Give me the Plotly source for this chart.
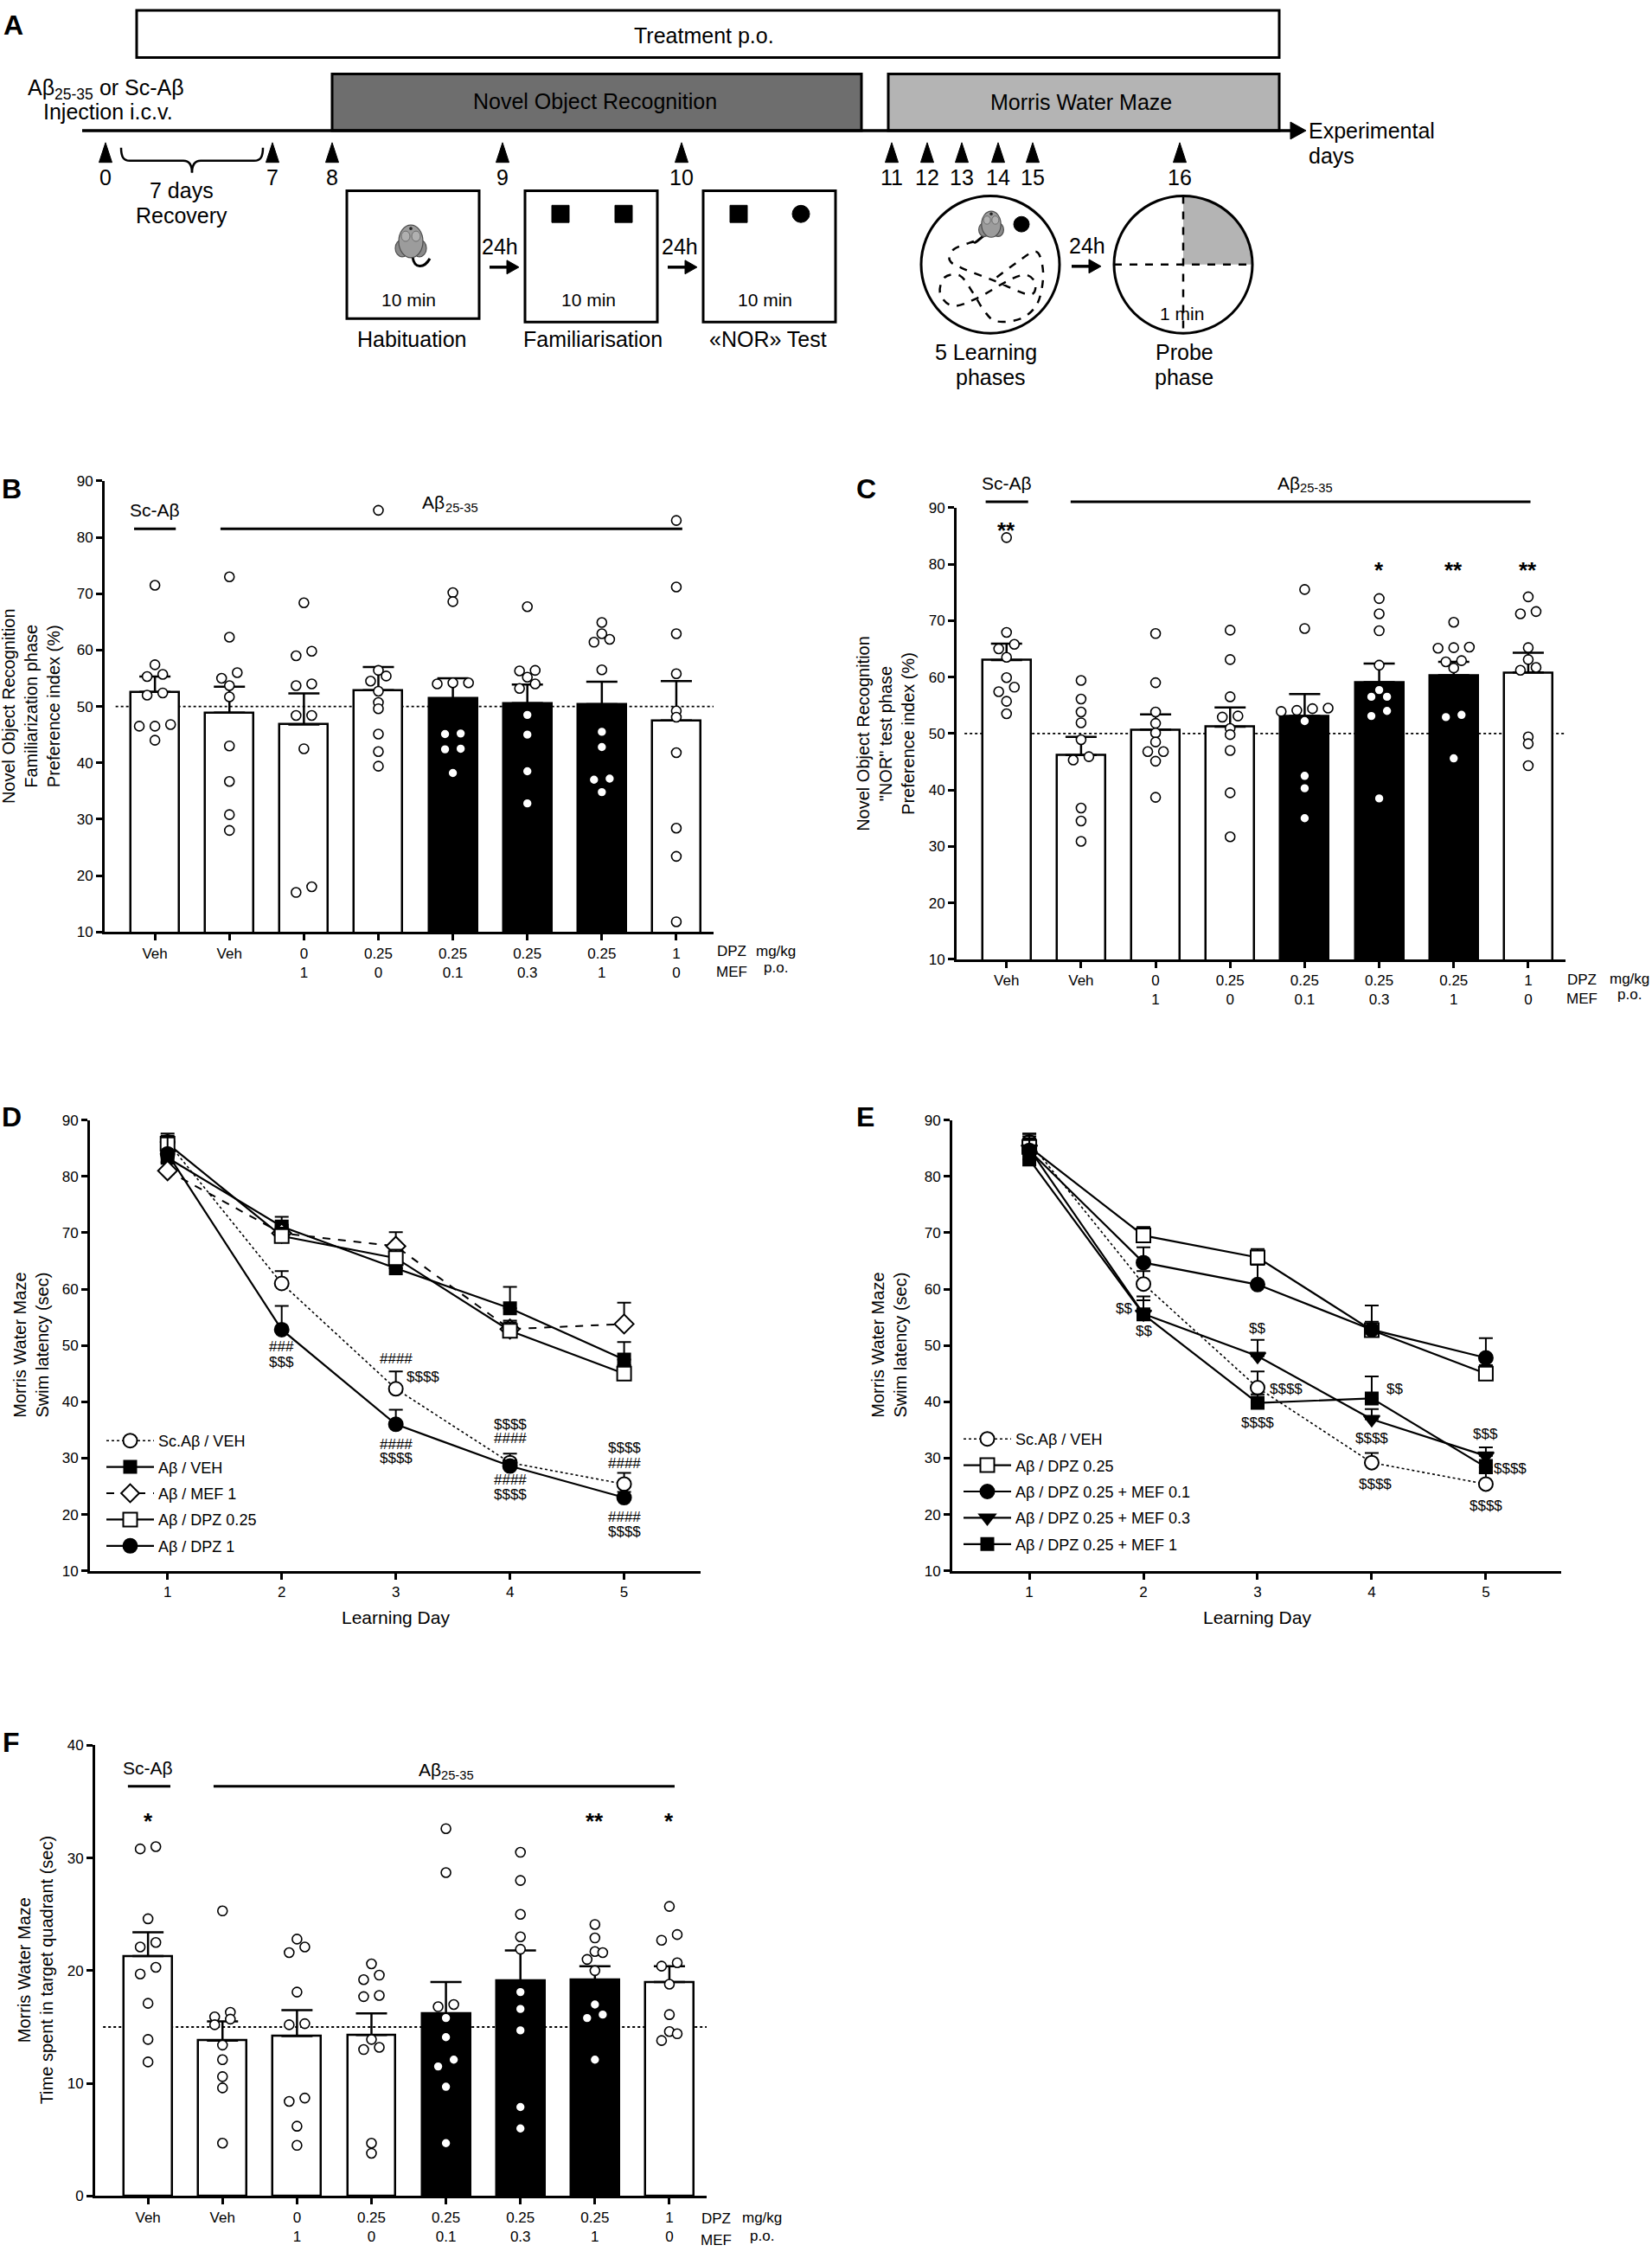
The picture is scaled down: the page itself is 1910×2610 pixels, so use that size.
import plotly.graph_objects as go

W, H = 1910, 2610
FONT = "Liberation Sans, Arial, Helvetica, sans-serif"

def X(px):
    return px / W

def Y(py):
    return 1 - py / H

# ------------------------------------------------------------------ data
dpz_labels = ["Veh", "Veh", "0", "0.25", "0.25", "0.25", "0.25", "1"]
mef_labels = ["", "", "1", "0", "0.1", "0.3", "1", "0"]
groups = list(range(8))

# Panel B - familiarisation preference index
fam_mean = [52.6, 48.9, 46.8, 52.9, 51.4, 50.6, 50.4, 47.5]
fam_sem = [2.7, 4.6, 5.5, 4.1, 3.6, 3.3, 4.0, 7.0]
fam_points = [
    [71.5, 57.4, 55.7, 55.3, 52.4, 52.0, 46.8, 46.5, 46.5, 44.0],
    [73.0, 62.3, 56.0, 55.0, 53.7, 51.7, 43.0, 36.7, 30.8, 28.0],
    [68.4, 59.8, 59.0, 54.0, 53.7, 48.4, 48.4, 42.5, 18.0, 17.0],
    [84.8, 56.4, 55.4, 54.5, 52.7, 50.7, 49.6, 45.1, 42.0, 39.4],
    [70.2, 68.6, 54.2, 54.0, 54.2, 45.2, 45.1, 42.5, 42.4, 38.2],
    [67.7, 56.4, 56.3, 55.2, 54.0, 53.2, 48.5, 45.0, 38.5, 32.8],
    [64.9, 62.9, 61.9, 61.4, 56.5, 45.5, 42.8, 37.2, 37.0, 34.8],
    [83.0, 71.2, 62.9, 55.8, 49.2, 48.1, 41.8, 28.4, 23.4, 11.8],
]

# Panel C - NOR test preference index
nor_mean = [63.0, 46.2, 50.7, 51.2, 53.1, 59.1, 60.3, 60.8]
nor_sem = [2.9, 3.2, 2.7, 3.4, 3.9, 3.3, 2.4, 3.5]
nor_points = [
    [84.7, 67.9, 65.8, 65.0, 63.5, 59.9, 58.2, 57.4, 55.7, 53.5],
    [59.4, 56.1, 53.8, 51.9, 48.9, 45.9, 45.3, 36.8, 34.5, 30.9],
    [67.7, 59.0, 53.8, 51.8, 50.1, 48.5, 46.8, 46.8, 45.1, 38.7],
    [68.3, 63.1, 56.5, 53.1, 52.9, 50.9, 49.8, 47.0, 39.5, 31.7],
    [75.5, 68.6, 54.5, 54.4, 53.9, 54.1, 52.2, 42.5, 40.3, 35.0],
    [73.9, 71.2, 68.2, 62.1, 57.7, 56.5, 56.5, 54.0, 53.1, 38.5],
    [69.7, 65.2, 65.1, 65.3, 62.7, 62.9, 61.6, 53.3, 52.9, 45.6],
    [74.2, 71.6, 71.2, 65.2, 63.1, 61.7, 61.2, 49.4, 48.2, 44.3],
]
nor_stars = ["**", "", "", "", "", "*", "**", "**"]

# Panel F - probe test time in target quadrant
probe_mean = [21.3, 13.8, 14.2, 14.3, 16.2, 19.1, 19.2, 19.0]
probe_sem = [2.1, 1.7, 2.3, 1.9, 2.8, 2.7, 1.2, 1.4]
probe_points = [
    [31.0, 30.8, 24.6, 22.5, 22.1, 20.3, 19.7, 17.1, 13.9, 11.9],
    [25.3, 16.3, 15.9, 15.7, 15.2, 13.4, 12.1, 10.6, 9.6, 4.7],
    [22.8, 22.1, 21.6, 18.1, 15.3, 15.2, 8.7, 8.4, 6.2, 4.5],
    [20.6, 19.6, 19.2, 17.8, 17.7, 13.9, 13.2, 13.0, 4.7, 3.8],
    [32.6, 28.7, 17.0, 16.8, 15.8, 14.1, 12.1, 11.5, 9.7, 4.7],
    [30.5, 28.0, 25.0, 23.0, 21.9, 18.1, 16.6, 14.7, 7.9, 6.0],
    [24.1, 22.9, 21.7, 21.6, 21.0, 20.0, 17.0, 16.1, 15.8, 12.1],
    [25.7, 23.2, 22.7, 20.4, 20.7, 18.8, 16.1, 14.6, 14.4, 13.8],
]
probe_stars = ["*", "", "", "", "", "", "**", "*"]

# Panels D / E - swim latency over learning days
days = [1, 2, 3, 4, 5]
d_names = ["Sc.Aβ / VEH", "Aβ / VEH", "Aβ / MEF 1", "Aβ / DPZ 0.25", "Aβ / DPZ 1"]
d_mean = [
    [86.1, 61.0, 42.3, 29.2, 25.4],
    [83.3, 71.1, 63.7, 56.6, 47.5],
    [81.0, 69.9, 67.6, 52.9, 53.8],
    [85.8, 69.4, 65.5, 52.6, 45.0],
    [84.0, 52.8, 36.0, 28.6, 23.0],
]
d_sem = [
    [1.5, 2.2, 3.1, 1.6, 2.0],
    [1.6, 1.7, 1.0, 3.8, 3.1],
    [1.5, 1.5, 2.5, 1.5, 3.8],
    [1.4, 1.5, 1.5, 1.5, 1.5],
    [2.9, 4.2, 2.6, 1.0, 1.0],
]
d_marks = [  # text, day, value
    ("###", 2, 49.8), ("$$$", 2, 47.0),
    ("####", 3, 47.7), ("$$$$", 3.24, 44.4), ("####", 3, 32.5), ("$$$$", 3, 30.0),
    ("$$$$", 4, 36.0), ("####", 4, 33.6), ("####", 4, 26.1), ("$$$$", 4, 23.5),
    ("$$$$", 5, 31.9), ("####", 5, 29.1), ("####", 5, 19.5), ("$$$$", 5, 17.0),
]

e_names = ["Sc.Aβ / VEH", "Aβ / DPZ 0.25", "Aβ / DPZ 0.25 + MEF 0.1",
           "Aβ / DPZ 0.25 + MEF 0.3", "Aβ / DPZ 0.25 + MEF 1"]
e_mean = [
    [86.1, 60.9, 42.5, 29.2, 25.4],
    [85.2, 69.5, 65.6, 52.7, 45.0],
    [84.6, 64.7, 60.8, 52.8, 47.8],
    [84.9, 55.6, 48.1, 36.9, 30.4],
    [83.0, 55.5, 39.8, 40.6, 28.4],
]
e_sem = [
    [1.5, 2.3, 2.9, 1.7, 2.0],
    [1.5, 1.5, 1.5, 1.5, 1.5],
    [2.5, 2.7, 3.5, 4.3, 3.5],
    [2.6, 3.1, 2.9, 1.8, 1.5],
    [2.0, 2.5, 1.5, 3.9, 1.3],
]
e_marks = [
    ("$$", 1.83, 56.5), ("$$", 2, 52.5),
    ("$$", 3, 53.0), ("$$$$", 3.25, 42.3), ("$$$$", 3, 36.3),
    ("$$", 4.2, 42.3), ("$$$$", 4, 33.6), ("$$$$", 4.03, 25.4),
    ("$$$", 5, 34.3), ("$$$$", 5.21, 28.2), ("$$$$", 5, 21.6),
]

# timeline (panel A)
tl_days = ["0", "7", "8", "9", "10", "11", "12", "13", "14", "15", "16"]

# ------------------------------------------------------------------ styles
bar_fill = ["white", "white", "white", "white", "black", "black", "black", "white"]
d_style = [("circle", "white", "dot", 1.6, 16), ("square", "black", "solid", 2.2, 14),
           ("diamond", "white", "dash", 2.0, 17), ("square", "white", "solid", 2.2, 16),
           ("circle", "black", "solid", 2.2, 16)]
e_style = [("circle", "white", "dot", 1.6, 16), ("square", "white", "solid", 2.2, 16),
           ("circle", "black", "solid", 2.2, 16), ("triangle-down", "black", "solid", 2.2, 16),
           ("square", "black", "solid", 2.2, 14)]
tl_px = [122, 315, 384, 581, 788, 1031, 1072, 1112, 1154, 1194, 1364]
ATXT = 25


def swarm(values, thresh, spacing=0.21):
    order = sorted(range(len(values)), key=lambda i: values[i])
    rows = []
    for i in order:
        if rows and abs(values[i] - values[rows[-1][0]]) <= thresh:
            rows[-1].append(i)
        else:
            rows.append([i])
    off = [0.0] * len(values)
    for row in rows:
        n = len(row)
        for k, i in enumerate(row):
            off[i] = (k - (n - 1) / 2) * spacing
    return off


def esc(s):
    # keep "$" from being read as LaTeX delimiters
    return s.replace("$", "&#36;")


fig = go.Figure()
shapes = []
ann = []


def text(x, y, s, size=ATXT, xref="paper", yref="paper", xanchor="center",
         bold=False, angle=0, yanchor="middle", xshift=0, yshift=0, pad=1):
    ann.append(dict(x=x, y=y, xref=xref, yref=yref, text=s, xshift=xshift, yshift=yshift,
                    showarrow=False, xanchor=xanchor, yanchor=yanchor, textangle=angle,
                    borderpad=pad, borderwidth=0,
                    font=dict(family=FONT, size=size, color="black",
                              weight="bold" if bold else "normal")))


def abeta(x, y, size, xref, yref, tail=""):
    # "Aβ" with a "25-35" subscript, drawn as separate text runs
    sub = 0.7 * size
    wa = 1.237 * size
    ws = 2.557 * sub
    wt = 4.182 * size if tail else 0.0
    left = -(wa + ws + wt) / 2
    text(x, y, "Aβ", size, xref, yref, xanchor="right", xshift=left + wa, pad=0)
    text(x, y, "25-35", sub, xref, yref, xanchor="left", xshift=left + wa + 0.5,
         yshift=-0.3 * size, pad=0)
    if tail:
        text(x, y, tail, size, xref, yref, xanchor="left", xshift=left + wa + ws, pad=0)


def pp(x, y):
    return "%.5f,%.5f" % (X(x), Y(y))


def path(pts, close=False, fill=None, width=2.5, dash="solid", color="black"):
    d = "M" + pp(*pts[0]) + "".join(" L" + pp(*p) for p in pts[1:])
    if close:
        d += " Z"
    shapes.append(dict(type="path", xref="paper", yref="paper", path=d,
                       fillcolor=fill if fill else "rgba(0,0,0,0)",
                       line=dict(color=color, width=width, dash=dash), layer="above"))


def bez(segs, width=2.5, dash="solid", fill=None, close=False, color="black", start=None):
    d = ("M" + pp(*start) + " L" + pp(*segs[0])) if start else ("M" + pp(*segs[0]))
    for c1, c2, p in segs[1:]:
        d += " C" + pp(*c1) + " " + pp(*c2) + " " + pp(*p)
    if close:
        d += " Z"
    shapes.append(dict(type="path", xref="paper", yref="paper", path=d,
                       fillcolor=fill if fill else "rgba(0,0,0,0)",
                       line=dict(color=color, width=width, dash=dash), layer="above"))


def rect(x0, y0, x1, y1, fill="white", width=3):
    shapes.append(dict(type="rect", xref="paper", yref="paper", x0=X(x0), x1=X(x1),
                       y0=Y(y1), y1=Y(y0), fillcolor=fill,
                       line=dict(color="black", width=width), layer="above"))


def ellipse(cx, cy, rx, ry, fill="white", width=3, color="black"):
    shapes.append(dict(type="circle", xref="paper", yref="paper", x0=X(cx - rx), x1=X(cx + rx),
                       y0=Y(cy + ry), y1=Y(cy - ry), fillcolor=fill,
                       line=dict(color=color, width=width), layer="above"))


def arrow(x0, x1, y):
    path([(x0, y), (x1 - 12, y)], width=3.5)
    path([(x1 - 14, y - 8), (x1, y), (x1 - 14, y + 8)], close=True, fill="black", width=1)


def mouse(cx, cy, tail, s=1.0):
    bez(tail, width=3)
    ellipse(cx - 10 * s, cy + 8 * s, 8 * s, 10 * s, fill="#8a8a8a", width=1.2, color="#4d4d4d")
    ellipse(cx + 10 * s, cy + 8 * s, 8 * s, 10 * s, fill="#8a8a8a", width=1.2, color="#4d4d4d")
    ellipse(cx, cy, 14 * s, 19 * s, fill="#9c9c9c", width=1.2, color="#4d4d4d")
    ellipse(cx - 6 * s, cy - 6 * s, 5 * s, 6 * s, fill="#b0b0b0", width=1, color="#6d6d6d")
    ellipse(cx + 6 * s, cy - 6 * s, 5 * s, 6 * s, fill="#b0b0b0", width=1, color="#6d6d6d")
    ellipse(cx, cy - 15 * s, 1.6, 1.6, fill="#222222", width=0.5, color="#222222")

# ------------------------------------------------------------------ panel A
text(X(15), Y(20), "A", size=32, bold=True)
rect(158, 3, 1479, 58)
text(X(814), Y(32), "Treatment p.o.")
rect(384, 77, 996, 143, fill="#6e6e6e")
text(X(688), Y(109), "Novel Object Recognition")
rect(1027, 77, 1479, 143, fill="#b4b4b4")
text(X(1250), Y(110), "Morris Water Maze")
path([(95, 143), (1494, 143)], width=3.5)
path([(1492, 133), (1510, 143), (1492, 153)], close=True, fill="black", width=1)
text(X(1512), Y(143), "Experimental", xanchor="left")
text(X(1512), Y(172), "days", xanchor="left")
abeta(X(122), Y(93), ATXT, "paper", "paper", tail=" or Sc-Aβ")
text(X(125), Y(121), "Injection i.c.v.")
for lab, xp in zip(tl_days, tl_px):
    path([(xp - 7.5, 180), (xp, 157), (xp + 7.5, 180)], close=True, fill="black", width=1)
    text(X(xp), Y(197), lab)
bez([(140, 163), ((140, 174), (143, 178), (150, 178))], width=2.5)
path([(150, 178), (212, 178)], width=2.5)
bez([(212, 178), ((218, 178), (222, 182), (222, 192))], width=2.5)
bez([(222, 192), ((222, 182), (226, 178), (232, 178))], width=2.5)
path([(232, 178), (294, 178)], width=2.5)
bez([(294, 178), ((301, 178), (304, 174), (304, 163))], width=2.5)
text(X(210), Y(213), "7 days")
text(X(210), Y(242), "Recovery")

# NOR boxes
rect(401, 213, 554, 362)
mouse(475, 272, [(477, 290), ((479, 304), (490, 304), (497, 292))])
text(X(472), Y(340), "10 min", size=21)
text(X(476), Y(386), "Habituation")
rect(607, 213, 760, 366)
rect(638, 230, 658, 250, fill="black", width=1)
rect(711, 230, 731, 250, fill="black", width=1)
text(X(680), Y(340), "10 min", size=21)
text(X(685), Y(386), "Familiarisation")
rect(813, 213, 966, 366)
rect(844, 230, 864, 250, fill="black", width=1)
ellipse(926, 240, 10, 10, fill="black", width=1)
text(X(884), Y(340), "10 min", size=21)
text(X(888), Y(386), "«NOR» Test")
text(X(578), Y(278), "24h")
arrow(566, 600, 302)
text(X(786), Y(278), "24h")
arrow(772, 806, 302)

# Morris water maze drawings
ellipse(1145, 299, 80, 80, width=3)
traj = [(1126, 272), (1103, 281), (1098, 294), (1112, 303), (1150, 318), (1190, 334),
        (1197, 321), (1186, 311), (1165, 318), (1130, 338), (1102, 347), (1087, 333),
        (1092, 314), (1110, 312), (1125, 332), (1138, 353), (1152, 365), (1180, 362),
        (1199, 345), (1206, 315), (1203, 291), (1195, 284), (1175, 297), (1152, 314)]
segs = [traj[0]]
for i in range(len(traj) - 1):
    p0 = traj[max(i - 1, 0)]
    p1 = traj[i]
    p2 = traj[i + 1]
    p3 = traj[min(i + 2, len(traj) - 1)]
    c1 = (p1[0] + (p2[0] - p0[0]) / 6, p1[1] + (p2[1] - p0[1]) / 6)
    c2 = (p2[0] - (p3[0] - p1[0]) / 6, p2[1] - (p3[1] - p1[1]) / 6)
    segs.append((c1, c2, p2))
bez(segs, width=2.5, dash="dash")
ellipse(1181, 252, 9, 9, fill="black", width=1)
mouse(1146, 252, [(1140, 264), ((1130, 270), (1127, 276), (1126, 272))], s=0.8)
text(X(1140), Y(401), "5 Learning")
text(X(1145), Y(430), "phases")
text(X(1257), Y(277), "24h")
arrow(1239, 1273, 301)
k = 0.5523
cx, cy, r = 1368, 299, 80
bez([(cx, cy - r), ((cx + k * r, cy - r), (cx + r, cy - k * r), (cx + r, cy))],
    width=0, fill="#b4b4b4", close=True, start=(cx, cy))
path([(cx, cy - r), (cx, cy + r)], width=2.5, dash="dash")
path([(cx - r, cy), (cx + r, cy)], width=2.5, dash="dash")
ellipse(cx, cy, r, r, fill="rgba(0,0,0,0)", width=3)
text(X(1366), Y(356), "1 min", size=21)
text(X(1369), Y(401), "Probe")
text(X(1369), Y(430), "phase")

# ------------------------------------------------------------------ axes
def axstyle(**kw):
    d = dict(showline=True, linecolor="black", linewidth=3, ticks="outside", ticklen=7,
             tickwidth=2.5, tickcolor="black", showgrid=False, zeroline=False,
             tickfont=dict(family=FONT, size=17, color="black"))
    d.update(kw)
    return d

ticktext = [d if not m else "%s<br>%s" % (d, m) for d, m in zip(dpz_labels, mef_labels)]
rngB, rngC, rngF = [-0.675, 7.5], [-0.67, 7.5], [-0.71, 7.5]
layout_axes = dict(
    xaxis=axstyle(domain=[X(121), X(825)], range=rngB, tickvals=groups, ticktext=ticktext, anchor="y"),
    yaxis=axstyle(domain=[Y(1076), Y(551)], range=[10, 90], dtick=10, anchor="x"),
    xaxis2=axstyle(domain=[X(1106), X(1810)], range=rngC, tickvals=groups, ticktext=ticktext, anchor="y2"),
    yaxis2=axstyle(domain=[Y(1108), Y(582)], range=[10, 90], dtick=10, anchor="x2"),
    xaxis3=axstyle(domain=[X(104), X(810)], range=[0.32, 5.67], tickvals=days, anchor="y3"),
    yaxis3=axstyle(domain=[Y(1820), Y(1295)], range=[10, 90], dtick=10, anchor="x3"),
    xaxis4=axstyle(domain=[X(1101), X(1805)], range=[0.325, 5.66], tickvals=days, anchor="y4"),
    yaxis4=axstyle(domain=[Y(1820), Y(1295)], range=[10, 90], dtick=10, anchor="x4"),
    xaxis5=axstyle(domain=[X(110), X(817)], range=rngF, tickvals=groups, ticktext=ticktext, anchor="y5"),
    yaxis5=axstyle(domain=[Y(2548), Y(2023)], range=[0, 40], dtick=10, anchor="x5"),
)


def dfrac(v, rng):
    return (v - rng[0]) / (rng[1] - rng[0])

# ------------------------------------------------------------------ bar panels
def bar_panel(xa, ya, mean, sem, pts, thresh):
    fig.add_trace(go.Bar(x=groups, y=mean, width=0.65, xaxis=xa, yaxis=ya, showlegend=False,
                         marker=dict(color=bar_fill, line=dict(color="black", width=2.5)),
                         error_y=dict(type="data", array=sem, arrayminus=[0] * len(sem),
                                      symmetric=False, color="black", thickness=2.5, width=18)))
    xs, ys = [], []
    for g, vals in zip(groups, pts):
        off = swarm(vals, thresh)
        xs += [g + o for o in off]
        ys += vals
    fig.add_trace(go.Scatter(x=xs, y=ys, mode="markers", xaxis=xa, yaxis=ya, showlegend=False,
                             marker=dict(symbol="circle", size=11, color="white",
                                         line=dict(color="black", width=1.6))))

bar_panel("x", "y", fam_mean, fam_sem, fam_points, 1.0)
bar_panel("x2", "y2", nor_mean, nor_sem, nor_points, 1.0)
bar_panel("x5", "y5", probe_mean, probe_sem, probe_points, 0.65)

for xr, yr, yv, x0 in [("x", "y", 50, 0.018), ("x2", "y2", 50, 0.013), ("x5", "y5", 15, 0.013)]:
    shapes.append(dict(type="line", xref=xr + " domain", yref=yr, x0=x0, x1=1, y0=yv, y1=yv,
                       line=dict(color="black", width=1.8, dash="dot"), layer="below"))

# group headers
def hline(xr, yr, x0, x1, y):
    shapes.append(dict(type="line", xref=xr, yref=yr, x0=x0, x1=x1, y0=y, y1=y,
                       line=dict(color="black", width=3), layer="above"))

hline("x", "y", -0.28, 0.28, 81.5)
hline("x", "y", 0.88, 7.08, 81.5)
text(0, 84.8, "Sc-Aβ", size=21, xref="x", yref="y")
abeta(3.96, 86.2, 21, "x", "y")

hline("x2 domain", "y2 domain", dfrac(-0.28, rngC), dfrac(0.29, rngC), 1.013)
hline("x2 domain", "y2 domain", dfrac(0.86, rngC), dfrac(7.03, rngC), 1.013)
text(dfrac(0, rngC), 1.055, "Sc-Aβ", size=21, xref="x2 domain", yref="y2 domain")
abeta(dfrac(4.0, rngC), 1.055, 21, "x2 domain", "y2 domain")
for g, s in zip(groups, nor_stars):
    if s:
        text(g, 86.0 if g == 0 else 79.0, s, size=26, xref="x2", yref="y2", bold=True)

hline("x5", "y5", -0.27, 0.30, 36.35)
hline("x5", "y5", 0.88, 7.07, 36.35)
text(0, 38.0, "Sc-Aβ", size=21, xref="x5", yref="y5")
abeta(4.0, 37.8, 21, "x5", "y5")
for g, s in zip(groups, probe_stars):
    if s:
        text(g, 33.3, s, size=26, xref="x5", yref="y5", bold=True)

# dose labels right of bar axes
for xr, rng, xa, xb, y1, y2 in [("x", rngB, 7.74, 8.34, 1099, 1123),
                                ("x2", rngC, 7.72, 8.36, 1132, 1154),
                                ("x5", rngF, 7.63, 8.24, 2574, 2599)]:
    xd = xr + " domain"
    text(dfrac(xa, rng), Y(y1), "DPZ", size=17, xref=xd)
    text(dfrac(xb, rng), Y(y1 - 1), "mg/kg", size=17, xref=xd)
    text(dfrac(xa, rng), Y(y2), "MEF", size=17, xref=xd)
    text(dfrac(xb, rng), Y(y2 - 5), "p.o.", size=17, xref=xd)

# ------------------------------------------------------------------ line panels
def line_panel(xa, ya, names, means, sems, styles, legend):
    for nm, m, s, st in zip(names, means, sems, styles):
        sym, fill, dash, lw, size = st
        fig.add_trace(go.Scatter(
            x=days, y=m, name=nm, mode="lines+markers", xaxis=xa, yaxis=ya, legend=legend,
            legendgroup=legend + nm,
            line=dict(color="black", width=lw, dash=dash),
            marker=dict(symbol=sym, size=size, color=fill, line=dict(color="black", width=2)),
            error_y=dict(type="data", array=s, arrayminus=[0] * len(s), symmetric=False,
                         color="black", thickness=2, width=8)))

line_panel("x3", "y3", d_names, d_mean, d_sem, d_style, "legend")
line_panel("x4", "y4", e_names, e_mean, e_sem, e_style, "legend2")
for s, dx, v in d_marks:
    text(dx, v, esc(s), size=17, xref="x3", yref="y3")
for s, dx, v in e_marks:
    text(dx, v, esc(s), size=17, xref="x4", yref="y4")

# ------------------------------------------------------------------ titles & letters
text(X(36), Y(813), "Novel Object Recognition<br>Familiarization phase<br>Preference index (%)",
     size=20, angle=-90)
text(X(1024), Y(845), "Novel Object Recognition<br>\"NOR\" test phase<br>Preference index (%)",
     size=20, angle=-90)
text(X(36), Y(1557), "Morris Water Maze<br>Swim latency (sec)", size=20, angle=-90)
text(X(1028), Y(1557), "Morris Water Maze<br>Swim latency (sec)", size=20, angle=-90)
text(X(41), Y(2285), "Morris Water Maze<br>Time spent in target quadrant (sec)", size=20, angle=-90)
text(X(457), Y(1874), "Learning Day", size=21)
text(X(1453), Y(1874), "Learning Day", size=21)
for lab, xp, yp in [("B", 13, 560), ("C", 1002, 560), ("D", 13, 1291), ("E", 1000, 1291),
                    ("F", 13, 2020)]:
    text(X(xp), Y(yp), lab, size=32, bold=True)

leg = dict(bgcolor="rgba(0,0,0,0)", font=dict(family=FONT, size=18, color="black"),
           xanchor="left", yanchor="top", itemwidth=55, tracegroupgap=4)
fig.update_layout(
    width=W, height=H, margin=dict(l=0, r=0, t=0, b=0, pad=0),
    paper_bgcolor="white", plot_bgcolor="white",
    font=dict(family=FONT, size=17, color="black"),
    shapes=shapes, annotations=ann,
    legend=dict(leg, x=X(118), y=Y(1650)),
    legend2=dict(leg, x=X(1109), y=Y(1648)),
    bargap=0,
    **layout_axes,
)

fig.write_html("out.html", config={"displayModeBar": False},
               post_script="document.body.style.margin='0';")
